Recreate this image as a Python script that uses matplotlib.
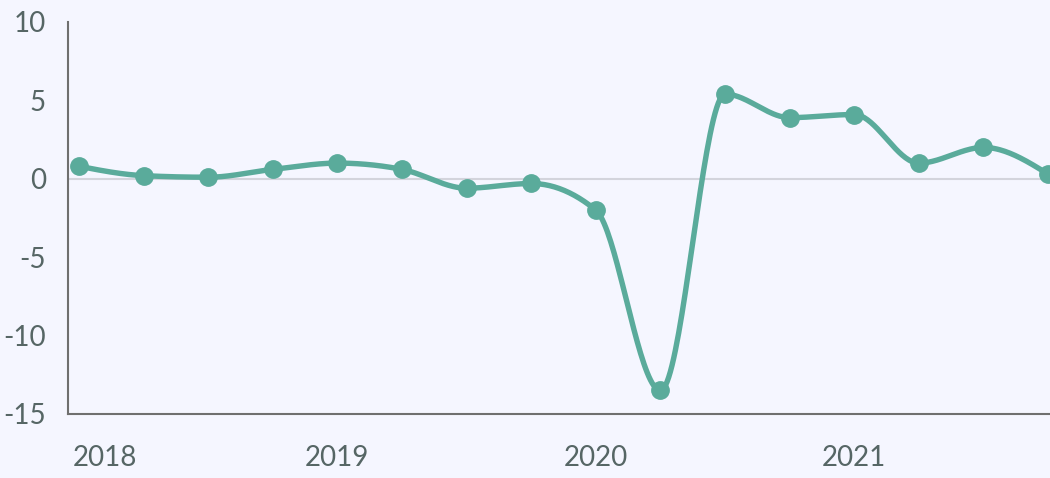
import numpy as np
import matplotlib.pyplot as plt
import matplotlib.transforms as mtransforms

# quarterly values, 2018 Q1 .. 2021 Q4
quarters = ['2018Q1', '2018Q2', '2018Q3', '2018Q4',
            '2019Q1', '2019Q2', '2019Q3', '2019Q4',
            '2020Q1', '2020Q2', '2020Q3', '2020Q4',
            '2021Q1', '2021Q2', '2021Q3', '2021Q4']
values = [0.8, 0.2, 0.1, 0.6,
          1.0, 0.6, -0.6, -0.3,
          -2.0, -13.5, 5.4, 3.9,
          4.1, 1.0, 2.0, 0.3]
year_labels = ['2018', '2019', '2020', '2021']
y_ticks = [-15, -10, -5, 0, 5, 10]

LINE = '#5aab9b'
BG = '#f5f6ff'
TEXT = '#566665'


def monotone_curve(x, y, n=40):
    # monotone cubic (like d3 curveMonotoneX), only for drawing the line
    x = np.asarray(x, float)
    y = np.asarray(y, float)
    h = np.diff(x)
    s = np.diff(y) / h
    m = np.zeros_like(y)
    for i in range(1, len(y) - 1):
        if s[i - 1] * s[i] <= 0:
            m[i] = 0
        else:
            p = (s[i - 1] * h[i] + s[i] * h[i - 1]) / (h[i - 1] + h[i])
            m[i] = np.sign(s[i]) * min(abs(s[i - 1]), abs(s[i]), 0.5 * abs(p)) * 2
    m[0] = (3 * s[0] - m[1]) / 2
    m[-1] = (3 * s[-1] - m[-2]) / 2
    xs, ys = [], []
    for i in range(len(h)):
        t = np.linspace(0, 1, n)
        h00 = 2 * t**3 - 3 * t**2 + 1
        h10 = t**3 - 2 * t**2 + t
        h01 = -2 * t**3 + 3 * t**2
        h11 = t**3 - t**2
        xs.append(x[i] + t * h[i])
        ys.append(h00 * y[i] + h10 * h[i] * m[i] + h01 * y[i + 1] + h11 * h[i] * m[i + 1])
    return np.concatenate(xs), np.concatenate(ys)


plt.rcParams['font.family'] = ['Lato', 'DejaVu Sans']

fig = plt.figure(figsize=(10.5, 4.78), dpi=100)
fig.patch.set_facecolor(BG)
ax = fig.add_axes([0.0648, 0.1339, 0.9352, 0.8201])
ax.set_facecolor(BG)

x = np.arange(len(values))
cx, cy = monotone_curve(x, values)

ax.axhline(0, color='#d3d4dc', lw=1.5, zorder=1)
ax.plot(cx, cy, color=LINE, lw=3.9, solid_capstyle='round', zorder=3)
ax.plot(x, values, 'o', color=LINE, ms=12.5, zorder=4)

ax.set_xlim(-0.17, 15.03)
ax.set_ylim(-15, 10)

ax.set_yticks(y_ticks)
ax.set_yticklabels([str(v) for v in y_ticks])
ax.set_xticks([0, 4, 8, 12])
ax.set_xticklabels(year_labels)

ax.tick_params(axis='both', length=0, labelsize=20, labelcolor=TEXT)
ax.tick_params(axis='y', pad=16)
ax.tick_params(axis='x', pad=22)

# first year label sits inside the axis
first = ax.get_xticklabels()[0]
first.set_horizontalalignment('left')
first.set_transform(first.get_transform() + mtransforms.ScaledTranslation(-6 / 100, 0, fig.dpi_scale_trans))

for side in ['top', 'right']:
    ax.spines[side].set_visible(False)
ax.spines['left'].set_color('#6f6f6f')
ax.spines['bottom'].set_color('#6f6f6f')
ax.spines['left'].set_linewidth(1.5)
ax.spines['bottom'].set_linewidth(1.5)

fig.savefig('out.png', dpi=100, facecolor=BG)
